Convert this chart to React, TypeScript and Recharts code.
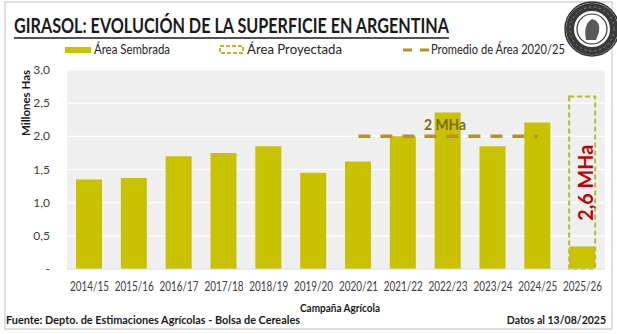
import React from "react";
import { ComposedChart, Bar, Line, XAxis, YAxis, CartesianGrid, LabelList } from "recharts";

const campanias = [
  "2014/15", "2015/16", "2016/17", "2017/18", "2018/19", "2019/20",
  "2020/21", "2021/22", "2022/23", "2023/24", "2024/25", "2025/26",
];
const areaSembrada = [1.35, 1.37, 1.7, 1.75, 1.85, 1.45, 1.62, 2.0, 2.36, 1.85, 2.21, 0.34];
const areaProyectada = [null, null, null, null, null, null, null, null, null, null, null, 2.6];
const promedioArea = [null, null, null, null, null, null, 2.0, 2.0, 2.0, 2.0, 2.0, null];
const etiquetaPromedio = ["", "", "", "", "", "", "", "", "2 MHa", "", "", ""];
const etiquetaProyectada = ["", "", "", "", "", "", "", "", "", "", "", "2,6 MHa"];
const yTicks = [0, 0.5, 1, 1.5, 2, 2.5, 3];

const data = campanias.map((c, i) => ({
  campania: c,
  sembrada: areaSembrada[i],
  proyectada: areaProyectada[i],
  promedio: promedioArea[i],
  etqProm: etiquetaPromedio[i],
  etqProy: etiquetaProyectada[i],
}));

const FONT = "Lato, 'Open Sans', sans-serif";
const BAR = "#c8c200";
const BOX = "#b4bc2c";
const AVG = "#b8912a";
const FIT = "spacingAndGlyphs";

const XTick = (props: any) => {
  const { x, y, payload } = props;
  return (
    <text
      x={x}
      y={y + 22}
      textAnchor="middle"
      textLength={39}
      lengthAdjust={FIT}
      fontSize={12.5}
      fill="#404040"
      fontFamily={FONT}
    >
      {payload.value}
    </text>
  );
};

const YTick = (props: any) => {
  const { x, y, payload } = props;
  const v = Number(payload.value);
  const label = v === 0 ? "-" : v.toFixed(1).replace(".", ",");
  return (
    <text x={x - 17} y={y + 4} textAnchor="end" fontSize={12} fill="#404040" fontFamily={FONT}>
      {label}
    </text>
  );
};

const PromLabel = (props: any) => {
  const { x, y, value } = props;
  if (!value) return null;
  return (
    <text
      x={x - 3}
      y={y - 6}
      textAnchor="middle"
      textLength={42}
      lengthAdjust={FIT}
      fontSize={15}
      fontWeight="bold"
      fill="#7f6b14"
      fontFamily={FONT}
    >
      {value}
    </text>
  );
};

const ProyLabel = (props: any) => {
  const { x, y, width, height, value } = props;
  if (!value) return null;
  const cx = x + width / 2 + 3;
  const cy = y + height / 2;
  return (
    <text
      x={cx}
      y={cy}
      transform={`rotate(-90 ${cx} ${cy})`}
      textAnchor="middle"
      textLength={76}
      lengthAdjust={FIT}
      dominantBaseline="central"
      fontSize={20}
      fontWeight="bold"
      fill="#c00000"
      fontFamily={FONT}
    >
      {value}
    </text>
  );
};

export default function App() {
  return (
    <div style={{ position: "absolute", left: 0, top: 0, width: 617, height: 334, background: "#fff", fontFamily: FONT }}>
      <ComposedChart
        width={617}
        height={334}
        data={data}
        margin={{ top: 70, right: 12, bottom: 45, left: 0 }}
        barGap={-26}
      >
        <CartesianGrid vertical={false} fill="#f0f0f0" stroke="#ffffff" strokeWidth={1.2} />
        <XAxis
          dataKey="campania"
          height={20}
          tickSize={0}
          tickMargin={0}
          tickLine={false}
          axisLine={{ stroke: "#d9d9d9" }}
          tick={<XTick />}
          interval={0}
        />
        <YAxis
          width={67}
          domain={[0, 3]}
          ticks={yTicks}
          tickSize={0}
          tickMargin={0}
          tickLine={false}
          axisLine={false}
          tick={<YTick />}
        />
        <Bar dataKey="sembrada" fill={BAR} barSize={26} isAnimationActive={false} />
        <Bar
          dataKey="proyectada"
          fill="none"
          stroke={BOX}
          strokeWidth={2}
          strokeDasharray="5 3"
          barSize={26}
          isAnimationActive={false}
        >
          <LabelList dataKey="etqProy" content={<ProyLabel />} />
        </Bar>
        <Line
          dataKey="promedio"
          stroke={AVG}
          strokeWidth={3.5}
          strokeDasharray="12 10"
          dot={false}
          activeDot={false}
          isAnimationActive={false}
        >
          <LabelList dataKey="etqProm" content={<PromLabel />} />
        </Line>
      </ComposedChart>

      <svg width={617} height={334} style={{ position: "absolute", left: 0, top: 0, pointerEvents: "none" }}>
        <rect x={5} y={2} width={607} height={327} fill="none" stroke="#bfbfbf" strokeWidth={1} />
        <text x={14} y={33} textLength={435} lengthAdjust={FIT} fontSize={21} fontWeight="bold" fill="#1a1a1a" fontFamily={FONT}>
          GIRASOL: EVOLUCIÓN DE LA SUPERFICIE EN ARGENTINA
        </text>
        <line x1={14} y1={38} x2={449} y2={38} stroke="#1a1a1a" strokeWidth={1.5} />

        {/* leyenda */}
        <rect x={65} y={47} width={26} height={6} fill={BAR} />
        <text x={94} y={54} textLength={76} lengthAdjust={FIT} fontSize={12.5} fill="#262626" fontFamily={FONT}>Área Sembrada</text>
        <rect x={220} y={46} width={23} height={7} fill="none" stroke={BOX} strokeWidth={2} strokeDasharray="4 2" />
        <text x={247} y={54} textLength={95} lengthAdjust={FIT} fontSize={12.5} fill="#262626" fontFamily={FONT}>Área Proyectada</text>
        <line x1={403} y1={50} x2={429} y2={50} stroke={AVG} strokeWidth={3} strokeDasharray="9 8" />
        <text x={431} y={54} textLength={134} lengthAdjust={FIT} fontSize={12.5} fill="#262626" fontFamily={FONT}>Promedio de Área 2020/25</text>

        <text
          x={25}
          y={103}
          transform="rotate(-90 25 103)"
          textAnchor="middle"
          dominantBaseline="central"
          fontSize={11.5}
          fontWeight="bold"
          fill="#1a1a1a"
          fontFamily={FONT}
        >
          Millones Has
        </text>
        <text x={340} y={312} textAnchor="middle" textLength={80} lengthAdjust={FIT} fontSize={11.5} fontWeight="bold" fill="#1a1a1a" fontFamily={FONT}>
          Campaña Agrícola
        </text>
        <text x={6} y={324} textLength={294} lengthAdjust={FIT} fontSize={11.5} fontWeight="bold" fill="#1a1a1a" fontFamily={FONT}>
          Fuente: Depto. de Estimaciones Agrícolas - Bolsa de Cereales
        </text>
        <text x={606} y={324} textAnchor="end" fontSize={10.5} fontWeight="bold" fill="#1a1a1a" fontFamily={FONT}>
          Datos al 13/08/2025
        </text>

        {/* sello */}
        <circle cx={592} cy={29} r={27} fill="#ffffff" stroke="#333333" strokeWidth={1.5} />
        <circle cx={592} cy={29} r={22} fill="none" stroke="#3a3a3a" strokeWidth={8} />
        <circle cx={592} cy={29} r={22} fill="none" stroke="#9a9a9a" strokeWidth={0.8} strokeDasharray="2 3" />
        <circle cx={592} cy={29} r={15} fill="none" stroke="#3a3a3a" strokeWidth={1.2} />
        <path d="M586 40 Q583 24 592 19 Q601 21 599 32 L596 40 Z" fill="#5a5a5a" />
      </svg>
    </div>
  );
}
